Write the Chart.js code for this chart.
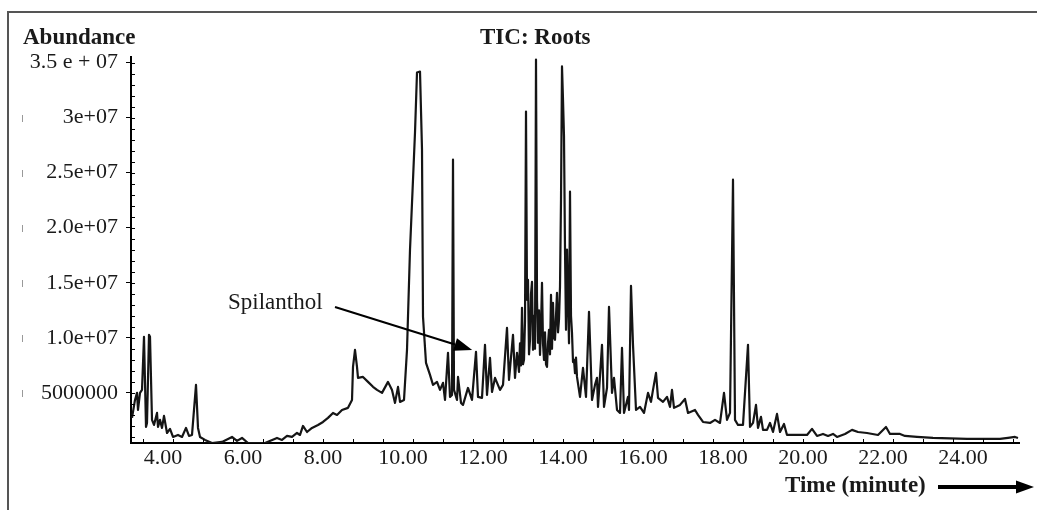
<!DOCTYPE html>
<html>
<head>
<meta charset="utf-8">
<script src="https://cdn.jsdelivr.net/npm/chart.js@4.4.0/dist/chart.umd.min.js"></script>
<style>
  html, body { margin: 0; padding: 0; background: #fff; }
</style>
</head>
<body>
<canvas id="tic" width="1037" height="510"></canvas>
<script>
// retention time (minutes) and abundance
const times = [
  3.225, 3.3, 3.35, 3.375, 3.425, 3.475, 3.525, 3.575, 3.6, 3.65, 3.675, 3.725, 3.775, 3.85, 3.875, 3.925, 3.975,
  4.025, 4.1, 4.175, 4.25, 4.375, 4.475, 4.575, 4.65, 4.725, 4.825, 4.875, 4.925,
  5.05, 5.225, 5.475, 5.725, 5.85, 5.975, 6.125, 6.55, 6.85, 6.975, 7.1, 7.225, 7.35, 7.425, 7.5, 7.6, 7.725, 7.875,
  8.0, 8.125, 8.25, 8.35, 8.475, 8.625, 8.725, 8.75, 8.8, 8.85, 8.875, 9.0, 9.125, 9.25, 9.35, 9.475, 9.625, 9.725, 9.8, 9.875, 9.925,
  10.025, 10.1, 10.175, 10.25, 10.3, 10.35, 10.425, 10.475, 10.5, 10.575, 10.675, 10.75, 10.85, 10.925,
  11.0, 11.05, 11.125, 11.175, 11.225, 11.25, 11.275, 11.35, 11.375, 11.45, 11.5, 11.625, 11.725, 11.825, 11.875, 11.975,
  12.05, 12.1, 12.175, 12.225, 12.3, 12.425, 12.5, 12.6, 12.65, 12.75, 12.8, 12.85, 12.9, 12.925, 12.95, 12.975,
  13.0, 13.025, 13.05, 13.075, 13.1, 13.125, 13.15, 13.175, 13.2, 13.225, 13.25, 13.275, 13.3, 13.325, 13.35, 13.375, 13.4, 13.425, 13.45, 13.475,
  13.5, 13.525, 13.55, 13.575, 13.6, 13.625, 13.65, 13.675, 13.7, 13.725, 13.75, 13.775, 13.8, 13.825, 13.85, 13.875, 13.9, 13.925, 13.95, 13.975,
  14.0, 14.025, 14.05, 14.075, 14.1, 14.125, 14.15, 14.175, 14.2, 14.225, 14.25, 14.275, 14.3, 14.325, 14.35, 14.425, 14.5, 14.575, 14.65, 14.725, 14.8, 14.85, 14.875, 14.975,
  15.025, 15.1, 15.15, 15.225, 15.275, 15.35, 15.425, 15.475, 15.525, 15.625, 15.65, 15.7, 15.75, 15.825, 15.925,
  16.025, 16.125, 16.2, 16.25, 16.325, 16.375, 16.5, 16.6, 16.675, 16.725, 16.775, 16.925,
  17.05, 17.125, 17.3, 17.375, 17.5, 17.675, 17.8, 17.925,
  18.025, 18.1, 18.175, 18.25, 18.3, 18.375, 18.5, 18.625, 18.675, 18.75, 18.825, 18.875, 18.95,
  19.0, 19.1, 19.175, 19.25, 19.35, 19.425, 19.525, 19.6, 19.8,
  20.1, 20.225, 20.35, 20.5, 20.625, 20.75, 20.85,
  21.05, 21.225, 21.375, 21.6, 21.875,
  22.075, 22.175, 22.425, 22.55, 22.85,
  23.25, 24.1, 24.925, 25.125, 25.3, 25.375
];

const abundance = [
  2.73e6, 4.36e6, 5.0e6, 3.45e6, 5.0e6, 5.27e6, 10.09e6, 1.91e6, 2.27e6, 10.27e6, 10.09e6, 2.55e6, 2.09e6, 3.18e6, 1.91e6, 2.55e6, 1.82e6,
  2.91e6, 1.36e6, 1.73e6, 1.0e6, 1.18e6, 1.0e6, 1.82e6, 1.09e6, 1.18e6, 5.73e6, 1.82e6, 1.0e6,
  0.73e6, 0.45e6, 0.55e6, 1.0e6, 0.64e6, 0.91e6, 0.45e6, 0.45e6, 0.91e6, 0.73e6, 1.09e6, 1.0e6, 1.36e6, 1.18e6, 2.0e6, 1.45e6, 1.82e6, 2.09e6,
  2.36e6, 2.73e6, 3.18e6, 3.0e6, 3.45e6, 3.64e6, 4.36e6, 7.36e6, 8.91e6, 7.36e6, 6.36e6, 6.45e6, 6.0e6, 5.55e6, 5.27e6, 5.0e6, 6.0e6, 5.27e6, 4.09e6, 5.55e6, 4.18e6,
  4.36e6, 8.91e6, 18.0e6, 24.36e6, 28.64e6, 34.09e6, 34.18e6, 27.09e6, 11.91e6, 7.73e6, 6.64e6, 5.73e6, 6.0e6, 5.27e6,
  5.91e6, 4.36e6, 8.64e6, 4.64e6, 4.82e6, 26.18e6, 5.27e6, 4.36e6, 6.45e6, 4.09e6, 3.91e6, 5.45e6, 4.36e6, 8.73e6, 4.64e6, 4.55e6,
  9.36e6, 4.82e6, 8.18e6, 5.09e6, 6.36e6, 5.27e6, 5.73e6, 10.91e6, 6.18e6, 10.27e6, 6.36e6, 8.64e6, 6.91e6, 9.5e6, 7.5e6, 12.73e6,
  7.6e6, 8.0e6, 11.5e6, 30.55e6, 13.45e6, 15.27e6, 8.5e6, 9.82e6, 14.0e6, 15.09e6, 8.91e6, 12.0e6, 9.0e6, 35.27e6, 13.45e6, 9.55e6, 12.5e6, 8.45e6, 11.0e6, 15.0e6,
  9.5e6, 8.0e6, 10.5e6, 7.6e6, 7.36e6, 9.5e6, 10.73e6, 8.5e6, 13.91e6, 9.0e6, 13.18e6, 10.0e6, 9.82e6, 12.0e6, 14.09e6, 10.5e6, 11.64e6, 14.64e6, 22.55e6, 34.64e6,
  31.64e6, 28.27e6, 18.0e6, 10.73e6, 18.0e6, 13.45e6, 9.5e6, 23.27e6, 12.0e6, 10.45e6, 7.8e6, 8.0e6, 6.8e6, 8.2e6, 6.45e6, 4.64e6, 7.27e6, 4.64e6, 12.36e6, 4.36e6, 5.73e6, 6.36e6, 3.73e6, 9.36e6,
  3.73e6, 5.45e6, 12.82e6, 5.0e6, 6.36e6, 3.45e6, 3.18e6, 9.09e6, 3.18e6, 4.64e6, 3.45e6, 14.73e6, 9.36e6, 3.45e6, 3.73e6,
  3.18e6, 5.0e6, 4.18e6, 5.27e6, 6.82e6, 4.55e6, 4.18e6, 4.64e6, 3.73e6, 5.27e6, 3.64e6, 3.91e6,
  4.45e6, 3.18e6, 3.45e6, 3.0e6, 2.36e6, 2.27e6, 2.55e6, 2.27e6,
  5.0e6, 2.55e6, 3.18e6, 24.36e6, 2.55e6, 2.09e6, 2.09e6, 9.36e6, 1.91e6, 2.27e6, 3.91e6, 1.82e6, 2.82e6,
  1.64e6, 1.64e6, 2.27e6, 1.45e6, 3.09e6, 1.45e6, 2.18e6, 1.18e6, 1.18e6,
  1.18e6, 1.73e6, 1.09e6, 1.27e6, 1.09e6, 1.27e6, 1.0e6,
  1.27e6, 1.64e6, 1.45e6, 1.36e6, 1.18e6,
  1.91e6, 1.27e6, 1.27e6, 1.09e6, 1.0e6,
  0.91e6, 0.82e6, 0.82e6, 0.91e6, 1.0e6, 0.91e6
];

const xTickValues = [4, 6, 8, 10, 12, 14, 16, 18, 20, 22, 24];
const yTickValues = [5e6, 10e6, 15e6, 20e6, 25e6, 30e6, 35e6];
const yTickLabels = ['5000000', '1.0e+07', '1.5e+07', '2.0e+07', '2.5e+07', '3e+07', '3.5 e + 07'];

// peak marked with the arrow
const spilanthol = { time: 11.73, abundance: 8.9e6 };

const serif = '"Liberation Serif", "Times New Roman", serif';

const points = times.map((t, i) => ({ x: t, y: abundance[i] }));

function arrow(ctx, x1, y1, x2, y2, width, headLen, headWidth) {
  const ang = Math.atan2(y2 - y1, x2 - x1);
  const bx = x2 - headLen * Math.cos(ang);
  const by = y2 - headLen * Math.sin(ang);
  ctx.lineWidth = width;
  ctx.beginPath();
  ctx.moveTo(x1, y1);
  ctx.lineTo(bx, by);
  ctx.stroke();
  ctx.beginPath();
  ctx.moveTo(x2, y2);
  ctx.lineTo(bx + headWidth / 2 * Math.sin(ang), by - headWidth / 2 * Math.cos(ang));
  ctx.lineTo(bx - headWidth / 2 * Math.sin(ang), by + headWidth / 2 * Math.cos(ang));
  ctx.closePath();
  ctx.fill();
}

const decorations = {
  id: 'decorations',
  afterDraw(chart) {
    const { ctx } = chart;
    const xs = chart.scales.x;
    const ys = chart.scales.y;
    ctx.save();

    // outer frame (top and left edges only)
    ctx.strokeStyle = '#555';
    ctx.lineWidth = 2;
    ctx.beginPath();
    ctx.moveTo(1037, 12);
    ctx.lineTo(8, 12);
    ctx.lineTo(8, 510);
    ctx.stroke();

    // minor ticks
    ctx.strokeStyle = '#000';
    ctx.lineWidth = 1;
    ctx.beginPath();
    for (let v = 1e6; v <= 35e6; v += 1e6) {
      const py = Math.round(ys.getPixelForValue(v)) + 0.5;
      ctx.moveTo(xs.left - 1, py);
      ctx.lineTo(xs.left + 4, py);
    }
    for (let t = 3.5; t <= 25.25; t += 0.75) {
      const px = Math.round(xs.getPixelForValue(t)) + 0.5;
      ctx.moveTo(px, ys.bottom + 1);
      ctx.lineTo(px, ys.bottom - 4);
    }
    ctx.stroke();

    // faint marks left of the y labels
    ctx.strokeStyle = '#999';
    ctx.beginPath();
    yTickValues.slice(0, 6).forEach(v => {
      const py = Math.round(ys.getPixelForValue(v));
      ctx.moveTo(22.5, py - 3);
      ctx.lineTo(22.5, py + 4);
    });
    ctx.stroke();

    // titles
    ctx.fillStyle = '#1a1a1a';
    ctx.textBaseline = 'alphabetic';
    ctx.font = 'bold 23px ' + serif;
    ctx.fillText('Abundance', 23, 44);
    ctx.fillText('TIC: Roots', 480, 44);
    ctx.fillText('Time (minute)', 785, 492);

    ctx.strokeStyle = '#000';
    ctx.fillStyle = '#000';
    arrow(ctx, 938, 487, 1034, 487, 4, 18, 13);

    // spilanthol label
    ctx.fillStyle = '#1a1a1a';
    ctx.font = '23px ' + serif;
    ctx.fillText('Spilanthol', 228, 309);
    ctx.fillStyle = '#000';
    arrow(ctx, 335, 307,
      xs.getPixelForValue(spilanthol.time), ys.getPixelForValue(spilanthol.abundance),
      2, 18, 13);

    ctx.restore();
  }
};

new Chart(document.getElementById('tic'), {
  type: 'line',
  data: {
    datasets: [{
      data: points,
      borderColor: '#151515',
      borderWidth: 2.2,
      borderJoinStyle: 'round',
      pointRadius: 0,
      tension: 0,
      fill: false
    }]
  },
  options: {
    responsive: false,
    animation: false,
    devicePixelRatio: 1,
    layout: { padding: { top: 57, right: 18, left: 0, bottom: 0 } },
    plugins: {
      legend: { display: false },
      tooltip: { enabled: false },
      title: { display: false }
    },
    scales: {
      x: {
        type: 'linear',
        min: 3.2,
        max: 25.4,
        afterBuildTicks: s => { s.ticks = xTickValues.map(v => ({ value: v })); },
        afterFit: s => { s.height = 67; },
        border: { display: true, color: '#000', width: 2 },
        grid: { drawOnChartArea: false, drawTicks: false },
        ticks: {
          padding: 2,
          color: '#1a1a1a',
          font: { family: serif, size: 22 },
          maxRotation: 0,
          autoSkip: false,
          callback: v => v.toFixed(2)
        }
      },
      y: {
        min: 0.45e6,
        max: 35.5e6,
        afterBuildTicks: s => { s.ticks = yTickValues.map(v => ({ value: v })); },
        afterFit: s => { s.width = 131; },
        border: { display: true, color: '#000', width: 2 },
        grid: { drawOnChartArea: false, drawTicks: true, tickLength: 5, color: '#000', tickWidth: 1 },
        ticks: {
          padding: 8,
          color: '#1a1a1a',
          font: { family: serif, size: 22 },
          autoSkip: false,
          callback: v => yTickLabels[yTickValues.indexOf(v)]
        }
      }
    }
  },
  plugins: [decorations]
});
</script>
</body>
</html>
